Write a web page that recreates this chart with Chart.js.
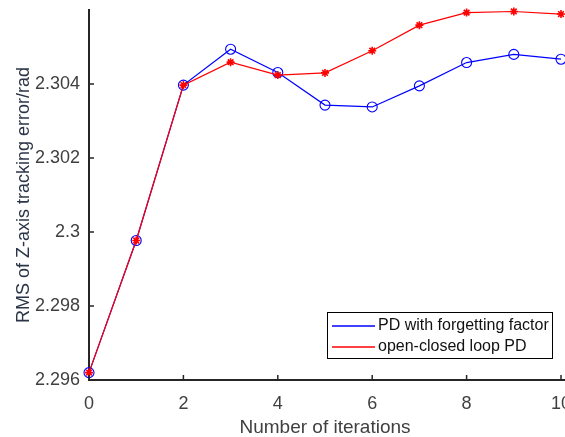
<!DOCTYPE html>
<html>
<head>
<meta charset="utf-8">
<script src="https://cdn.jsdelivr.net/npm/chart.js@4.4.1/dist/chart.umd.min.js"></script>
<style>
  html, body { margin: 0; padding: 0; overflow: hidden; background: #fff; }
  #chart { display: block; }
</style>
</head>
<body>
<canvas id="chart" width="600" height="437"></canvas>
<script>
// iterations on the x axis
const iterations = [0, 1, 2, 3, 4, 5, 6, 7, 8, 9, 10];

// RMS of Z-axis tracking error (rad)
const pdForgetting = [2.2962, 2.29977, 2.30397, 2.30494, 2.30431, 2.30343, 2.30338, 2.30395, 2.30458, 2.30480, 2.30467];
const openClosedPD = [2.2962, 2.29977, 2.30397, 2.30459, 2.30424, 2.30430, 2.30490, 2.30559, 2.30593, 2.30596, 2.30589];

const seriesLabels = ['PD with forgetting factor', 'open-closed loop PD'];

const xTicks = [0, 2, 4, 6, 8, 10];
const yTicks = [2.296, 2.298, 2.300, 2.302, 2.304];

const toPoints = vals => vals.map((v, i) => ({ x: iterations[i], y: v }));

const axisColor = '#262626';
const tickColor = '#404040';
const fontFamily = 'Arial, "Liberation Sans", Helvetica, sans-serif';

// MATLAB-style inward ticks, extra axis tail, and legend box inside the plot
const matlabStyle = {
    id: 'matlabStyle',
    afterDraw( chart ) {
        const ctx = chart.ctx;
        const area = chart.chartArea;
        const xs = chart.scales.x;
        const ys = chart.scales.y;

        ctx.save();
        ctx.strokeStyle = axisColor;
        ctx.lineWidth = 1.5;
        ctx.beginPath();
        for ( let v of xTicks ) {
            const px = xs.getPixelForValue( v );
            ctx.moveTo( px, area.bottom );
            ctx.lineTo( px, area.bottom - 5 );
        }
        for ( let v of yTicks ) {
            const py = ys.getPixelForValue( v );
            ctx.moveTo( area.left, py );
            ctx.lineTo( area.left + 5, py );
        }
        ctx.stroke();

        // bottom axis keeps going to the edge of the picture
        ctx.lineWidth = 2;
        ctx.beginPath();
        ctx.moveTo( area.right, area.bottom );
        ctx.lineTo( chart.width, area.bottom );
        ctx.stroke();

        // legend
        const boxRight = area.right - 9;
        const boxBottom = area.bottom - 22;
        const boxW = 225, boxH = 46;
        const bx = boxRight - boxW, by = boxBottom - boxH;
        ctx.fillStyle = '#fff';
        ctx.fillRect( bx, by, boxW, boxH );
        ctx.strokeStyle = '#000';
        ctx.lineWidth = 1;
        ctx.strokeRect( bx + 0.5, by + 0.5, boxW, boxH );

        ctx.font = '16px ' + fontFamily;
        ctx.textBaseline = 'middle';
        chart.data.datasets.forEach( ( ds, i ) => {
            const cy = by + 14 + i * 21;
            ctx.strokeStyle = ds.borderColor;
            ctx.lineWidth = 1.3;
            ctx.beginPath();
            ctx.moveTo( bx + 5, cy );
            ctx.lineTo( bx + 48, cy );
            ctx.stroke();
            ctx.fillStyle = '#111';
            ctx.fillText( ds.label, bx + 51, cy );
        } );
        ctx.restore();
    }
};

new Chart( document.getElementById( 'chart' ), {
    type: 'line',
    data: {
        datasets: [
            {
                label: seriesLabels[0],
                data: toPoints( pdForgetting ),
                borderColor: 'rgb(0,0,255)',
                backgroundColor: 'transparent',
                borderWidth: 1.2,
                pointStyle: 'circle',
                pointRadius: 5,
                pointBorderWidth: 1.1,
                pointBorderColor: 'rgb(0,0,255)',
                pointBackgroundColor: 'transparent',
                order: 1,
            },
            {
                label: seriesLabels[1],
                data: toPoints( openClosedPD ),
                borderColor: 'rgb(255,0,0)',
                backgroundColor: 'transparent',
                borderWidth: 1.2,
                pointStyle: 'star',
                pointRadius: 4,
                pointBorderWidth: 1.6,
                pointBorderColor: 'rgb(255,0,0)',
                pointBackgroundColor: 'rgb(255,0,0)',
                order: 0,
            }
        ]
    },
    options: {
        responsive: false,
        animation: false,
        clip: false,
        layout: {
            padding: { left: 0, right: 39, top: 10, bottom: 0 }
        },
        plugins: {
            legend: { display: false },
            tooltip: { enabled: false },
        },
        scales: {
            x: {
                type: 'linear',
                min: 0,
                max: 10,
                afterBuildTicks: scale => {
                    scale.ticks = xTicks.map( v => ( { value: v } ) );
                },
                afterFit: scale => {
                    scale.height = 57;
                    scale.paddingLeft = 0;
                    scale.paddingRight = 0;
                },
                grid: { display: false },
                border: { display: true, color: axisColor, width: 2 },
                ticks: {
                    padding: 5,
                    color: tickColor,
                    font: { family: fontFamily, size: 18 },
                    maxRotation: 0,
                    callback: v => String( v ),
                },
                title: {
                    display: true,
                    text: 'Number of iterations',
                    color: tickColor,
                    font: { family: fontFamily, size: 19, lineHeight: 1.0 },
                    padding: { top: 0, bottom: 0 },
                },
            },
            y: {
                type: 'linear',
                min: 2.296,
                max: 2.306,
                afterBuildTicks: scale => {
                    scale.ticks = yTicks.map( v => ( { value: v } ) );
                },
                afterFit: scale => {
                    scale.width = 89;
                    scale.paddingTop = 0;
                    scale.paddingBottom = 0;
                },
                grid: { display: false },
                border: { display: true, color: axisColor, width: 2 },
                ticks: {
                    padding: 1,
                    color: tickColor,
                    font: { family: fontFamily, size: 18 },
                    callback: v => String( +v.toFixed( 3 ) ),
                },
                title: {
                    display: true,
                    text: 'RMS of Z-axis tracking error/rad',
                    color: '#2b3547',
                    font: { family: fontFamily, size: 18 },
                    padding: { top: 13, bottom: 0 },
                },
            }
        }
    },
    plugins: [matlabStyle]
} );
</script>
</body>
</html>
